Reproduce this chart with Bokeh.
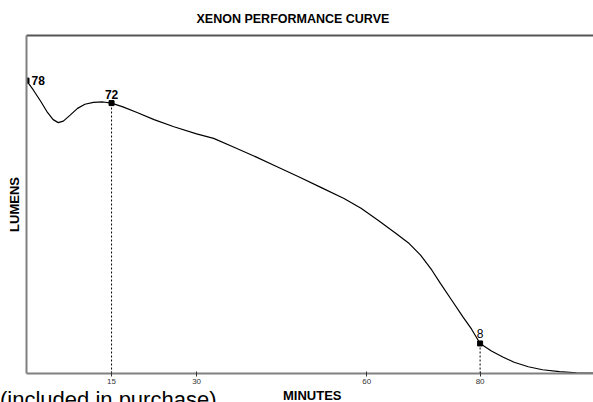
import math
from bokeh.plotting import figure
from bokeh.layouts import column
from bokeh.models import ColumnDataSource, FixedTicker, LinearAxis, Range1d, Div
from bokeh.core.properties import value
from bokeh.embed import file_html
from bokeh.resources import INLINE

# ---- data ----
chart_title = "XENON PERFORMANCE CURVE"
x_title = "MINUTES"
y_title = "LUMENS"
note_text = "(included in purchase)"

minutes = [0, 1.2, 2.5, 3.7, 4.7, 5.6, 6.5, 7.7, 9, 10.3, 11.8, 13.5, 15,
           17, 19.5, 22.5, 26, 30, 33, 36.5, 40, 44, 48, 52, 56, 59, 62, 65,
           67.5, 69.5, 71.5, 73, 75, 77, 78.5, 80, 82, 84, 86, 88.5, 91, 94, 97, 100]
lumens = [78, 75.5, 72.5, 69.5, 67.6, 66.8, 67.2, 68.8, 70.6, 71.7, 72.2, 72.3, 72,
          71.0, 69.5, 67.6, 65.7, 63.8, 62.6, 60.3, 58, 55.2, 52.4, 49.5, 46.6, 44, 40.8, 37.5,
          34.6, 31.5, 27.5, 24, 19.5, 15, 11.8, 8, 6, 4.4, 3, 1.8, 1, 0.5, 0.2, 0.1]

key_minutes = [0, 15, 80]
key_lumens = [78, 72, 8]
key_labels = ["78", "72", "8"]

tick_minutes = [15, 30, 60, 80]

FONT = "Liberation Sans"

p = figure(width=593, height=402, x_range=Range1d(0, 100), y_range=Range1d(0, 90),
           output_backend="svg", toolbar_location=None,
           min_border_left=26, min_border_right=0, min_border_top=35, min_border_bottom=29)
p.outline_line_color = None
p.grid.visible = False
p.border_fill_color = None
p.background_fill_color = None

# title
p.title.text = chart_title
p.title.align = "left"
p.title.offset = 170
p.title.text_font = FONT
p.title.text_font_size = "12.5px"
p.title.text_font_style = "bold"
p.title.text_color = "black"
p.title.standoff = 19

# bottom axis
xa = p.xaxis[0]
xa.ticker = FixedTicker(ticks=tick_minutes)
xa.minor_tick_line_color = None
xa.axis_line_color = "#808080"
xa.axis_line_width = 2
xa.major_tick_in = 2
xa.major_tick_out = 3
xa.major_tick_line_color = "#333333"
xa.major_label_text_font = FONT
xa.major_label_text_font_size = "8px"
xa.major_label_text_color = "#333333"
xa.major_label_standoff = 2

# left axis
ya = p.yaxis[0]
ya.ticker = FixedTicker(ticks=[])
ya.minor_tick_line_color = None
ya.major_tick_line_color = None
ya.major_tick_out = 0
ya.major_tick_in = 0
ya.axis_line_color = "#808080"
ya.axis_line_width = 2
ya.major_label_text_font_size = "0px"
ya.axis_label = y_title
ya.axis_label_text_font = FONT
ya.axis_label_text_font_size = "13px"
ya.axis_label_text_font_style = "bold"
ya.axis_label_text_color = "black"
ya.axis_label_standoff = 5

# top border as an empty axis
top = LinearAxis(ticker=FixedTicker(ticks=[]), axis_line_color="#555555", axis_line_width=2,
                 major_tick_line_color=None, minor_tick_line_color=None,
                 major_tick_out=0, major_tick_in=0,
                 major_label_text_font_size="0px")
p.add_layout(top, "above")

src = ColumnDataSource(dict(x=minutes, y=lumens))
p.line("x", "y", source=src, line_color="black", line_width=1.2)

# dashed drop lines
p.segment(x0=key_minutes[1:], y0=[0] * 2, x1=key_minutes[1:], y1=key_lumens[1:],
          line_color="black", line_width=1, line_dash="2 2")

p.scatter(key_minutes, key_lumens, marker="square", size=5, color="black")

p.text(x=[key_minutes[0]], y=[key_lumens[0]], text=[key_labels[0]], x_offset=5,
       text_align="left", text_baseline="middle", text_font=value(FONT),
       text_font_size="12px", text_font_style="bold", text_color="black")
p.text(x=[key_minutes[1]], y=[key_lumens[1]], text=[key_labels[1]], y_offset=-4,
       text_align="center", text_baseline="bottom", text_font=value(FONT),
       text_font_size="12px", text_font_style="bold", text_color="black")
p.text(x=[key_minutes[2]], y=[key_lumens[2]], text=[key_labels[2]], y_offset=-5,
       text_align="center", text_baseline="bottom", text_font=value(FONT),
       text_font_size="12px", text_font_style="normal", text_color="black")

bottom_html = (
    '<span style="position:absolute; left:0px; top:0px; font-size:22px; line-height:22px; '
    'white-space:nowrap;">' + note_text + '</span>'
    '<span style="position:absolute; left:283px; top:0px; font-size:13px; line-height:13px; '
    'font-weight:bold; white-space:nowrap;">' + x_title + '</span>'
)
bottom = Div(text=bottom_html, width=593, height=13, margin=(-13, 0, 0, 0),
             styles={"font-family": FONT, "color": "black", "position": "relative",
                     "z-index": "5", "overflow": "hidden"})

layout = column(p, bottom, spacing=0)
open("out.html", "w").write(file_html(layout, INLINE))
